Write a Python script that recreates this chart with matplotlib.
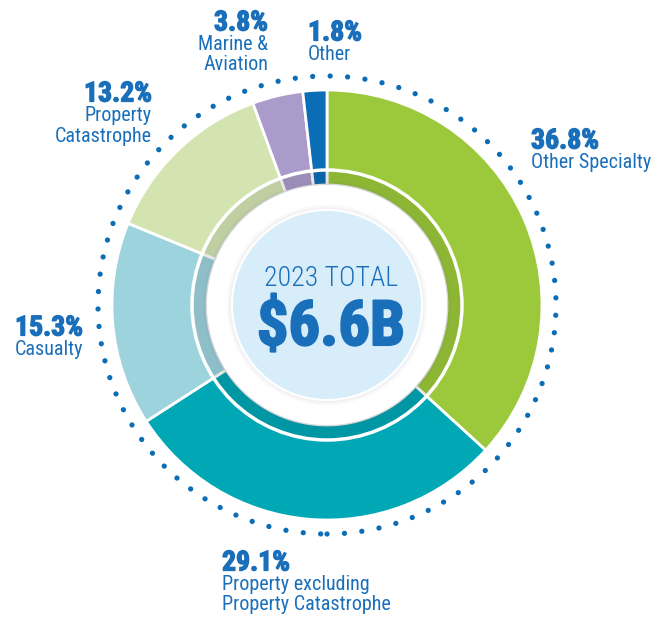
import numpy as np
import matplotlib
matplotlib.use("Agg")
import matplotlib.pyplot as plt
import matplotlib.patheffects as pe
from matplotlib.patches import Wedge, Circle

plt.rcParams['font.family'] = ['Roboto Condensed', 'DejaVu Sans']

# data (clockwise from 12 o'clock)
segments = ["Other Specialty", "Property excluding\nProperty Catastrophe", "Casualty",
            "Property\nCatastrophe", "Marine &\nAviation", "Other"]
shares = [36.8, 29.1, 15.3, 13.2, 3.8, 1.8]
colors = ["#9cc93b", "#00a7b5", "#9dd3dd", "#d3e4b1", "#ab9bca", "#0b6db6"]
total_year = "2023 TOTAL"
total_value = "$6.6B"

# label anchor (pixel x, pixel y of the % line centre, alignment)
label_pos = [(531, 141, "left"), (222, 563, "left"), (15, 328, "left"),
             (152, 94, "right"), (268, 23, "right"), (308, 33, "left")]

W, H = 665, 619
cx, cy = 327, H - 305
r_out, r_in = 215, 120
blue = "#1a6fba"
heavy = [pe.withStroke(linewidth=0.9, foreground=blue)]

fig = plt.figure(figsize=(W / 100, H / 100), dpi=100)
ax = fig.add_axes([0, 0, 1, 1])
ax.set_xlim(0, W)
ax.set_ylim(0, H)
ax.axis("off")

# dotted ring
ax.add_patch(Circle((cx, cy), 229, fill=False, edgecolor="#0b6db6", lw=3.8,
                    linestyle=(0, (0.01, 3.3)), capstyle="round"))

start = 90.0
for share, col in zip(shares, colors):
    sweep = share * 3.6
    ax.add_patch(Wedge((cx, cy), r_out, start - sweep, start, width=r_out - r_in,
                       facecolor=col, edgecolor="white", lw=2))
    start -= sweep

# darker inner band + white ring line
ax.add_patch(Wedge((cx, cy), 136, 0, 360, width=16, facecolor="black", alpha=0.09, lw=0))
ax.add_patch(Circle((cx, cy), 135, fill=False, edgecolor="white", lw=2.5))

# white disk with soft shadow
for rr, a in [(124, 0.05), (122, 0.07)]:
    ax.add_patch(Circle((cx, cy), rr, facecolor="#6a6a80", alpha=a, lw=0))
ax.add_patch(Circle((cx, cy), 120, facecolor="white", lw=0))
for rr, a in [(100, 0.05), (98, 0.06)]:
    ax.add_patch(Circle((cx, cy), rr, facecolor="#8a8aa0", alpha=a, lw=0))
ax.add_patch(Circle((cx, cy), 95, facecolor="#d7edf9", edgecolor="white", lw=1.5))

ax.text(cx + 4, H - 278, total_year, color=blue, fontsize=20, fontweight="light",
        ha="center", va="center")
ax.text(cx + 4, H - 328, total_value, color=blue, fontsize=45, fontweight="black",
        ha="center", va="center", path_effects=[pe.withStroke(linewidth=1.5, foreground=blue)])

for name, share, (lx, ly, ha) in zip(segments, shares, label_pos):
    ax.text(lx, H - ly, f"{share}%", color=blue, fontsize=20, fontweight="black",
            ha=ha, va="center", path_effects=heavy)
    ax.text(lx, H - ly - 12, name, color=blue, fontsize=14.5, ha=ha, va="top",
            linespacing=1.1)

fig.savefig("out.png", dpi=100)
